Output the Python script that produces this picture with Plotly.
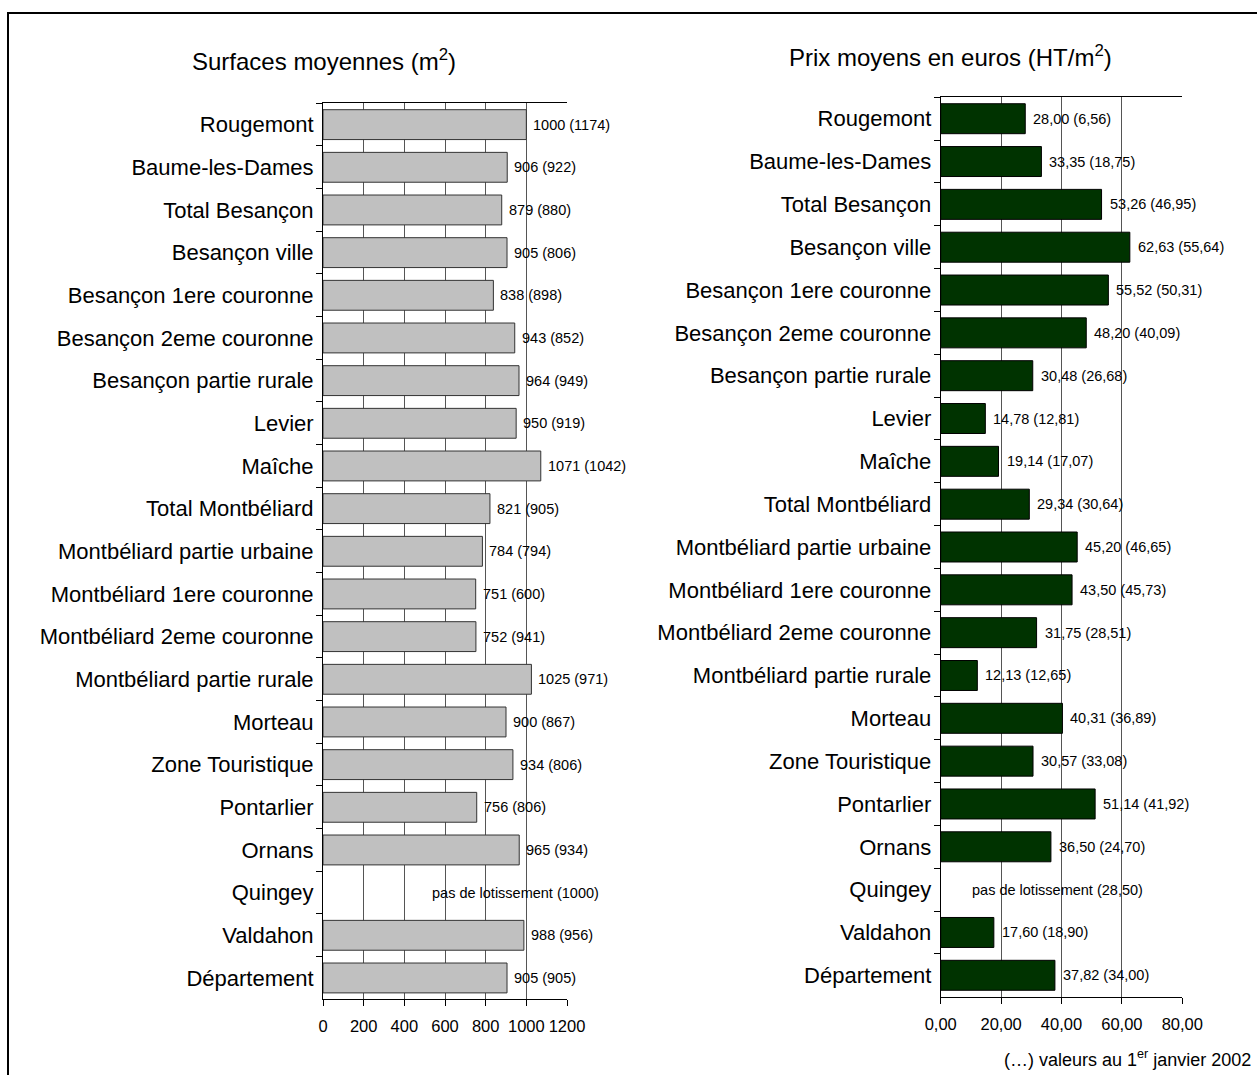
import plotly.graph_objects as go

categories = ["Rougemont", "Baume-les-Dames", "Total Besançon", "Besançon ville",
              "Besançon 1ere couronne", "Besançon 2eme couronne", "Besançon partie rurale",
              "Levier", "Maîche", "Total Montbéliard", "Montbéliard partie urbaine",
              "Montbéliard 1ere couronne", "Montbéliard 2eme couronne",
              "Montbéliard partie rurale", "Morteau", "Zone Touristique", "Pontarlier",
              "Ornans", "Quingey", "Valdahon", "Département"]

surfaces = [1000, 906, 879, 905, 838, 943, 964, 950, 1071, 821, 784, 751, 752, 1025,
            900, 934, 756, 965, None, 988, 905]
surfaces_2002 = [1174, 922, 880, 806, 898, 852, 949, 919, 1042, 905, 794, 600, 941, 971,
                 867, 806, 806, 934, 1000, 956, 905]

prix = [28.00, 33.35, 53.26, 62.63, 55.52, 48.20, 30.48, 14.78, 19.14, 29.34, 45.20,
        43.50, 31.75, 12.13, 40.31, 30.57, 51.14, 36.50, None, 17.60, 37.82]
prix_2002 = [6.56, 18.75, 46.95, 55.64, 50.31, 40.09, 26.68, 12.81, 17.07, 30.64, 46.65,
             45.73, 28.51, 12.65, 36.89, 33.08, 41.92, 24.70, 28.50, 18.90, 34.00]

surf_ticks = [0, 200, 400, 600, 800, 1000, 1200]
surf_ticktext = ["0", "200", "400", "600", "800", "1000", "1200"]
prix_ticks = [0, 20, 40, 60, 80]
prix_ticktext = ["0,00", "20,00", "40,00", "60,00", "80,00"]

no_data_text = "pas de lotissement"

FONT = "Arial, Liberation Sans, sans-serif"


def fr(v):
    return f"{v:.2f}".replace(".", ",")


fig = go.Figure()

fig.add_trace(go.Bar(
    y=categories, x=surfaces, orientation="h", width=0.7,
    marker=dict(color="#c0c0c0", line=dict(color="#333333", width=1)),
    xaxis="x", yaxis="y", showlegend=False, hoverinfo="x+y",
))
fig.add_trace(go.Bar(
    y=categories, x=prix, orientation="h", width=0.7,
    marker=dict(color="#003300", line=dict(color="#000000", width=1)),
    xaxis="x2", yaxis="y2", showlegend=False, hoverinfo="x+y",
))

annotations = []
for cat, v, old in zip(categories, surfaces, surfaces_2002):
    if v is None:
        annotations.append(dict(x=528, y=cat, xref="x", yref="y", xanchor="left",
                                text=f"{no_data_text} ({old})", showarrow=False,
                                font=dict(size=14.5, color="black", family=FONT)))
    else:
        annotations.append(dict(x=v, y=cat, xref="x", yref="y", xanchor="left", xshift=5,
                                text=f"{v} ({old})", showarrow=False,
                                font=dict(size=14.5, color="black", family=FONT)))
for cat, v, old in zip(categories, prix, prix_2002):
    if v is None:
        annotations.append(dict(x=9.7, y=cat, xref="x2", yref="y2", xanchor="left",
                                text=f"{no_data_text} ({fr(old)})", showarrow=False,
                                font=dict(size=14.5, color="black", family=FONT)))
    else:
        annotations.append(dict(x=v, y=cat, xref="x2", yref="y2", xanchor="left", xshift=6,
                                text=f"{fr(v)} ({fr(old)})", showarrow=False,
                                font=dict(size=14.5, color="black", family=FONT)))

annotations += [
    dict(x=324.5 / 1257, y=1 - 60 / 1075, xref="paper", yref="paper", xanchor="center",
         yanchor="middle", text="Surfaces moyennes (m<sup>2</sup>)", showarrow=False,
         font=dict(size=24, color="black", family=FONT)),
    dict(x=950 / 1257, y=1 - 56 / 1075, xref="paper", yref="paper", xanchor="center",
         yanchor="middle", text="Prix moyens en euros (HT/m<sup>2</sup>)", showarrow=False,
         font=dict(size=24, color="black", family=FONT)),
    dict(x=1253 / 1257, y=1 - 1058 / 1075, xref="paper", yref="paper", xanchor="right",
         yanchor="middle", text="(…) valeurs au 1<sup>er</sup> janvier 2002", showarrow=False,
         font=dict(size=18, color="black", family=FONT)),
]

common_x = dict(showgrid=True, gridcolor="#555555", gridwidth=1, showline=True,
                linecolor="black", linewidth=1, mirror=True, ticks="outside", ticklen=6,
                tickcolor="black", zeroline=False, automargin=False, ticklabelstandoff=6,
                tickfont=dict(size=16.5, color="black", family=FONT))
common_y = dict(type="category", categoryorder="array", categoryarray=categories,
                autorange="reversed", showline=True, linecolor="black", linewidth=1,
                ticks="outside", ticklen=6, tickcolor="black", tickson="boundaries",
                showgrid=False, automargin=False, ticklabelstandoff=4,
                tickfont=dict(size=22, color="black", family=FONT))

fig.update_layout(
    template="none",
    width=1257, height=1075, autosize=False,
    margin=dict(l=0, r=0, t=0, b=0, pad=0, autoexpand=False),
    paper_bgcolor="white", plot_bgcolor="white",
    font=dict(family=FONT, color="black"),
    bargap=0.3,
    xaxis=dict(domain=[323 / 1257, 567 / 1257], range=[0, 1200], tickvals=surf_ticks,
               ticktext=surf_ticktext, anchor="y", **common_x),
    yaxis=dict(domain=[1 - 999.3 / 1075, 1 - 103.3 / 1075], anchor="x", **common_y),
    xaxis2=dict(domain=[940.7 / 1257, 1182.3 / 1257], range=[0, 80], tickvals=prix_ticks,
                ticktext=prix_ticktext, anchor="y2", **common_x),
    yaxis2=dict(domain=[1 - 996.7 / 1075, 1 - 97.3 / 1075], anchor="x2", **common_y),
    annotations=annotations,
    shapes=[dict(type="rect", xref="paper", yref="paper", x0=8 / 1257, x1=1.01,
                 y0=-0.01, y1=1 - 13 / 1075, line=dict(color="black", width=2),
                 fillcolor="rgba(0,0,0,0)", layer="above")],
)

fig.write_html(
    "out.html",
    config={"displayModeBar": False, "responsive": False},
    post_script="document.body.style.margin='0';document.body.style.padding='0';"
                "document.body.style.overflow='hidden';",
)
